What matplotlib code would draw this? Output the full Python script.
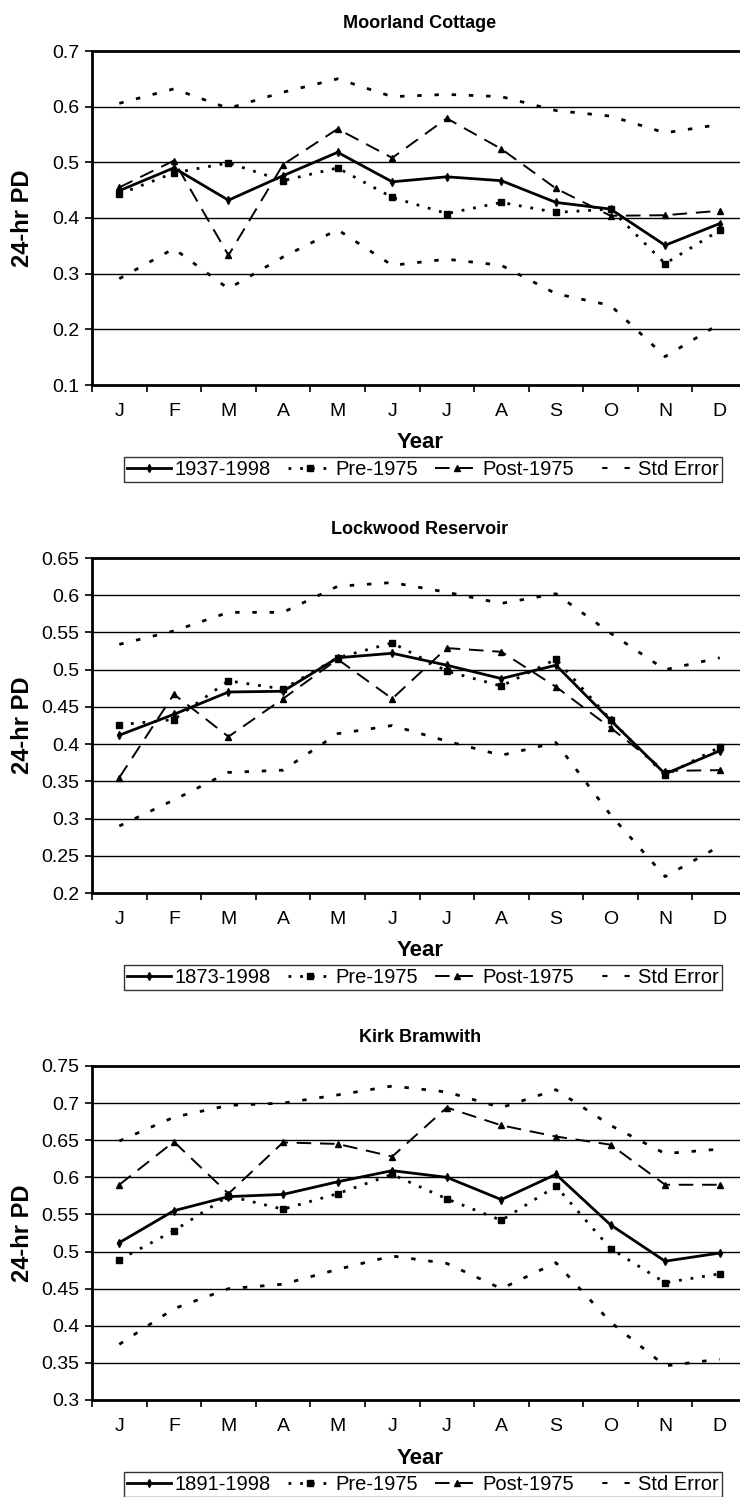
import numpy as np
import matplotlib.pyplot as plt
from matplotlib.lines import Line2D

plt.rcParams["font.family"] = ["Liberation Sans", "DejaVu Sans"]

months = ["J", "F", "M", "A", "M", "J", "J", "A", "S", "O", "N", "D"]

# Moorland Cottage
moor_all = [0.449, 0.490, 0.432, 0.476, 0.518, 0.465, 0.474, 0.467, 0.428, 0.416, 0.351, 0.390]
moor_pre = [0.443, 0.481, 0.499, 0.467, 0.490, 0.437, 0.408, 0.428, 0.410, 0.416, 0.318, 0.378]
moor_post = [0.455, 0.503, 0.333, 0.496, 0.560, 0.508, 0.579, 0.524, 0.453, 0.404, 0.405, 0.413]
moor_se_hi = [0.606, 0.632, 0.597, 0.626, 0.650, 0.618, 0.622, 0.618, 0.593, 0.583, 0.553, 0.568]
moor_se_lo = [0.291, 0.345, 0.273, 0.330, 0.379, 0.315, 0.326, 0.315, 0.264, 0.243, 0.151, 0.210]

# Lockwood Reservoir
lock_all = [0.412, 0.440, 0.470, 0.471, 0.516, 0.522, 0.506, 0.488, 0.506, 0.432, 0.360, 0.391]
lock_pre = [0.426, 0.433, 0.485, 0.474, 0.516, 0.536, 0.498, 0.478, 0.514, 0.433, 0.358, 0.396]
lock_post = [0.355, 0.467, 0.410, 0.461, 0.514, 0.461, 0.529, 0.524, 0.477, 0.422, 0.364, 0.365]
lock_se_hi = [0.534, 0.552, 0.577, 0.577, 0.612, 0.617, 0.604, 0.589, 0.602, 0.549, 0.500, 0.516]
lock_se_lo = [0.290, 0.325, 0.362, 0.365, 0.414, 0.425, 0.404, 0.385, 0.402, 0.305, 0.222, 0.263]

# Kirk Bramwith
kirk_all = [0.512, 0.555, 0.574, 0.577, 0.594, 0.609, 0.600, 0.570, 0.604, 0.536, 0.487, 0.498]
kirk_pre = [0.489, 0.528, 0.575, 0.557, 0.578, 0.604, 0.571, 0.542, 0.588, 0.504, 0.458, 0.470]
kirk_post = [0.590, 0.648, 0.578, 0.647, 0.645, 0.628, 0.694, 0.670, 0.655, 0.644, 0.590, 0.590]
kirk_se_hi = [0.649, 0.681, 0.697, 0.700, 0.711, 0.723, 0.715, 0.694, 0.718, 0.670, 0.632, 0.638]
kirk_se_lo = [0.375, 0.423, 0.450, 0.456, 0.476, 0.494, 0.484, 0.450, 0.485, 0.405, 0.346, 0.355]

panels = [
    ("Moorland Cottage", "1937-1998", moor_all, moor_pre, moor_post, moor_se_hi, moor_se_lo,
     np.arange(0.1, 0.71, 0.1)),
    ("Lockwood Reservoir", "1873-1998", lock_all, lock_pre, lock_post, lock_se_hi, lock_se_lo,
     np.arange(0.2, 0.66, 0.05)),
    ("Kirk Bramwith", "1891-1998", kirk_all, kirk_pre, kirk_post, kirk_se_hi, kirk_se_lo,
     np.arange(0.3, 0.76, 0.05)),
]

W, H = 740, 1497
fig = plt.figure(figsize=(W / 100, H / 100), dpi=100)

# pixel boxes (top, bottom) of each plot area
boxes = [(51, 385), (558, 893), (1066, 1400)]
left, right = 92, 747

styles = {
    "all": dict(color="black", lw=2.0, ls="-", marker="d", ms=4),
    "pre": dict(color="black", lw=2.0, ls=(0, (1.0, 3.2)), marker="s", ms=5),
    "post": dict(color="black", lw=1.4, ls=(0, (7.5, 4.5)), marker="^", ms=5),
    "se": dict(color="black", lw=2.0, ls=(0, (1.6, 4.6))),
}

x = np.arange(12)

for (title, period, s_all, s_pre, s_post, se_hi, se_lo, yt), (top, bot) in zip(panels, boxes):
    ax = fig.add_axes([left / W, 1 - bot / H, (right - left) / W, (bot - top) / H])
    ax.plot(x, se_hi, **styles["se"])
    ax.plot(x, se_lo, **styles["se"])
    ax.plot(x, s_pre, **styles["pre"])
    ax.plot(x, s_post, **styles["post"])
    ax.plot(x, s_all, **styles["all"])

    ax.set_xlim(-0.5, 11.5)
    ax.set_ylim(yt[0], yt[-1])
    ax.set_yticks(yt)
    ax.set_yticklabels([f"{v:g}" for v in np.round(yt, 2)])
    for v in yt[1:-1]:
        ax.axhline(v, color="black", lw=1.0, zorder=0)

    ax.set_xticks(np.arange(-0.5, 12, 1.0))
    ax.set_xticklabels([])
    ax.set_xticks(x, minor=True)
    ax.set_xticklabels(months, minor=True)
    ax.tick_params(axis="x", which="major", length=5, width=1.2, direction="out")
    ax.tick_params(axis="x", which="minor", length=0, pad=13, labelsize=14)
    ax.tick_params(axis="y", length=5, width=1.2, pad=4, labelsize=14)
    for sp in ["left", "bottom", "top"]:
        ax.spines[sp].set_linewidth(2.0)
    ax.spines["right"].set_visible(False)

    fig.text(23 / W, 1 - (top + bot) / 2 / H, "24-hr PD", rotation=90,
             ha="center", va="center", fontsize=17, fontweight="bold")

    cx = 420 / W
    fig.text(cx, 1 - (top - 28) / H, title, ha="center", va="center",
             fontsize=13, fontweight="bold")
    fig.text(cx, 1 - (bot + 58) / H, "Year", ha="center", va="center",
             fontsize=16, fontweight="bold")

    handles = [
        Line2D([0], [0], **styles["all"]),
        Line2D([0], [0], **styles["pre"]),
        Line2D([0], [0], **styles["post"]),
        Line2D([0], [0], color="black", lw=1.5, ls=(5.3, (2.5, 8.2))),
    ]
    leg = fig.legend(handles, [period, "Pre-1975", "Post-1975", "Std Error"],
                     loc="upper center", bbox_to_anchor=(423 / W, 1 - (bot + 72) / H),
                     ncol=4, fontsize=14.5, frameon=True, fancybox=False,
                     handlelength=2.2, handletextpad=0.15, columnspacing=0.85,
                     borderpad=0.15, borderaxespad=0, markerscale=1.0)
    leg.get_frame().set_edgecolor("black")
    leg.get_frame().set_linewidth(1.0)

fig.savefig("out.png", dpi=100)
